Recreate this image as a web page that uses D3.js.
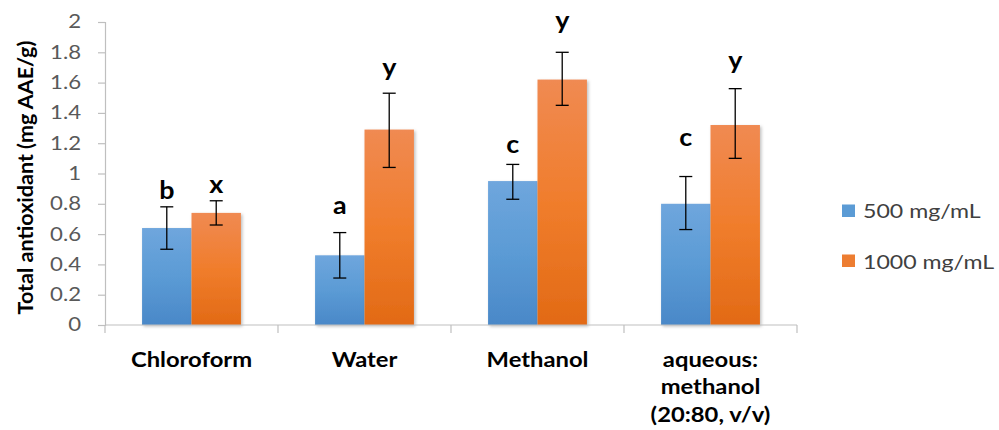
<!DOCTYPE html>
<html>
<head>
<meta charset="utf-8">
<script src="https://cdn.jsdelivr.net/npm/d3@7"></script>
<style>
  html, body { margin: 0; padding: 0; background: #ffffff; }
  svg { display: block; }
</style>
</head>
<body>
<svg id="chart" width="999" height="430"></svg>
<script>
// ---- data ----
const categories = ["Chloroform", "Water", "Methanol", "aqueous: methanol (20:80, v/v)"];
const seriesNames = ["500 mg/mL", "1000 mg/mL"];
const values500 = [0.64, 0.46, 0.95, 0.80];
const values1000 = [0.74, 1.29, 1.62, 1.32];
const errLow500 = [0.50, 0.31, 0.83, 0.63];
const errHigh500 = [0.78, 0.61, 1.06, 0.98];
const errLow1000 = [0.66, 1.04, 1.45, 1.10];
const errHigh1000 = [0.82, 1.53, 1.80, 1.56];
const letters500 = ["b", "a", "c", "c"];
const letters1000 = ["x", "y", "y", "y"];
const yTicks = [0, 0.2, 0.4, 0.6, 0.8, 1, 1.2, 1.4, 1.6, 1.8, 2];
const yTitle = "Total antioxidant (mg AAE/g)";

// ---- layout ----
const plot = { left: 105, right: 797, top: 22, bottom: 325 };
const font = "Lato, 'Open Sans', sans-serif";
// extra space between each significance letter and its error bar cap (px)
const letterGap500 = [8, 19, 11, 31];
const letterGap1000 = [8, 17, 23, 20];

const svg = d3.select("#chart");
const defs = svg.append("defs");

// horizontal text drawn slightly widened (Calibri-like proportions)
function wideText(parent, x, yPos, str, opts) {
  return parent.append("text")
    .attr("transform", `translate(${x},${yPos}) scale(${opts.sx},1)`)
    .attr("text-anchor", opts.anchor || "middle")
    .attr("font-family", font)
    .attr("font-weight", opts.bold ? "bold" : "normal")
    .attr("font-size", opts.size)
    .attr("fill", opts.fill || "#000")
    .text(str);
}

function gradient(id, top, mid, bottom) {
  const g = defs.append("linearGradient").attr("id", id)
    .attr("x1", 0).attr("y1", 0).attr("x2", 0).attr("y2", 1);
  g.append("stop").attr("offset", "0%").attr("stop-color", top);
  g.append("stop").attr("offset", "50%").attr("stop-color", mid);
  g.append("stop").attr("offset", "100%").attr("stop-color", bottom);
}
gradient("gBlue", "#6fa6dd", "#5b9bd5", "#4a88c8");
gradient("gOrange", "#f08a52", "#f07d2c", "#e26a15");

const shadow = defs.append("filter").attr("id", "shadow")
  .attr("x", "-20%").attr("y", "-10%").attr("width", "140%").attr("height", "120%");
shadow.append("feDropShadow").attr("dx", 1.5).attr("dy", 1.5)
  .attr("stdDeviation", 1.5).attr("flood-color", "#000").attr("flood-opacity", 0.25);

const x0 = d3.scaleBand().domain(categories).range([plot.left, plot.right]).paddingInner(0).paddingOuter(0);
// two bars take 4/7 of each category (Excel gap width 150%)
const x1 = d3.scaleBand().domain(seriesNames)
  .range([0, x0.bandwidth()]).paddingInner(0).paddingOuter(0.75);
const y = d3.scaleLinear().domain([0, 2]).range([plot.bottom, plot.top]);

const fills = { "500 mg/mL": "url(#gBlue)", "1000 mg/mL": "url(#gOrange)" };
const legendFills = { "500 mg/mL": "#5b9bd5", "1000 mg/mL": "#ed7d31" };

const rows = [];
categories.forEach((c, i) => {
  rows.push({ cat: c, s: seriesNames[0], v: values500[i], lo: errLow500[i], hi: errHigh500[i], letter: letters500[i], gap: letterGap500[i] });
  rows.push({ cat: c, s: seriesNames[1], v: values1000[i], lo: errLow1000[i], hi: errHigh1000[i], letter: letters1000[i], gap: letterGap1000[i] });
});

// ---- y axis ----
const tickSx = 1.2;
const yAxis = d3.axisLeft(y).tickValues(yTicks).tickSize(7).tickPadding(17)
  .tickFormat(d => d3.format("~g")(d));
const gy = svg.append("g").attr("transform", `translate(${plot.left},0)`).call(yAxis);
gy.select(".domain").attr("stroke", "#bfbfbf").attr("stroke-width", 1.2);
gy.selectAll(".tick line").attr("stroke", "#bfbfbf").attr("stroke-width", 1.2);
gy.selectAll(".tick text")
  .attr("x", -24 / tickSx)
  .attr("transform", `scale(${tickSx},1)`)
  .attr("font-family", font).attr("font-size", 18.5)
  .attr("fill", "#595959");

svg.append("text")
  .attr("transform", `translate(33,${(plot.top + plot.bottom) / 2 + 4}) rotate(-90)`)
  .attr("text-anchor", "middle")
  .attr("font-family", font).attr("font-weight", "bold").attr("font-size", 21.5)
  .attr("fill", "#000").text(yTitle);

// ---- bars ----
svg.append("g").selectAll("rect").data(rows).join("rect")
  .attr("x", d => x0(d.cat) + x1(d.s))
  .attr("y", d => y(d.v))
  .attr("width", x1.bandwidth())
  .attr("height", d => y(0) - y(d.v))
  .attr("fill", d => fills[d.s])
  .attr("filter", "url(#shadow)");

// ---- x axis ----
const xa = svg.append("g");
xa.append("line").attr("x1", plot.left).attr("x2", plot.right)
  .attr("y1", y(0)).attr("y2", y(0)).attr("stroke", "#bfbfbf").attr("stroke-width", 1.2);
const bounds = categories.map(c => x0(c)).concat([plot.right]);
xa.selectAll("line.tk").data(bounds).join("line").attr("class", "tk")
  .attr("x1", d => d).attr("x2", d => d)
  .attr("y1", y(0)).attr("y2", y(0) + 8)
  .attr("stroke", "#bfbfbf").attr("stroke-width", 1.2);

// category labels, wrapped to the band width
const catLines = {
  "aqueous: methanol (20:80, v/v)": ["aqueous:", "methanol", "(20:80, v/v)"]
};
categories.forEach(c => {
  const lines = catLines[c] || [c];
  lines.forEach((ln, k) => {
    wideText(xa, x0(c) + x0.bandwidth() / 2, 366.5 + k * 27.5, ln,
      { size: 20.5, sx: 1.16, bold: true });
  });
});

// ---- error bars ----
const eg = svg.append("g").attr("stroke", "#000").attr("stroke-width", 1.3);
rows.forEach(d => {
  const cx = x0(d.cat) + x1(d.s) + x1.bandwidth() / 2;
  eg.append("line").attr("x1", cx).attr("x2", cx).attr("y1", y(d.lo)).attr("y2", y(d.hi));
  [d.lo, d.hi].forEach(v => {
    eg.append("line").attr("x1", cx - 6.5).attr("x2", cx + 6.5).attr("y1", y(v)).attr("y2", y(v));
  });
});

// ---- significance letters ----
const lettersG = svg.append("g");
rows.forEach(d => {
  wideText(lettersG, x0(d.cat) + x1(d.s) + x1.bandwidth() / 2, y(d.hi) - d.gap, d.letter,
    { size: 24, sx: 1.12, bold: true });
});

// ---- legend ----
const lg = svg.append("g");
seriesNames.forEach((s, i) => {
  const cy = 211 + i * 50;
  lg.append("rect").attr("x", 842).attr("y", cy - 6.5).attr("width", 13).attr("height", 12.5)
    .attr("fill", legendFills[s]);
  wideText(lg, 863, cy + 6.5 + i, s, { size: 18.5, sx: 1.25, anchor: "start", fill: "#404040" });
});
</script>
</body>
</html>
